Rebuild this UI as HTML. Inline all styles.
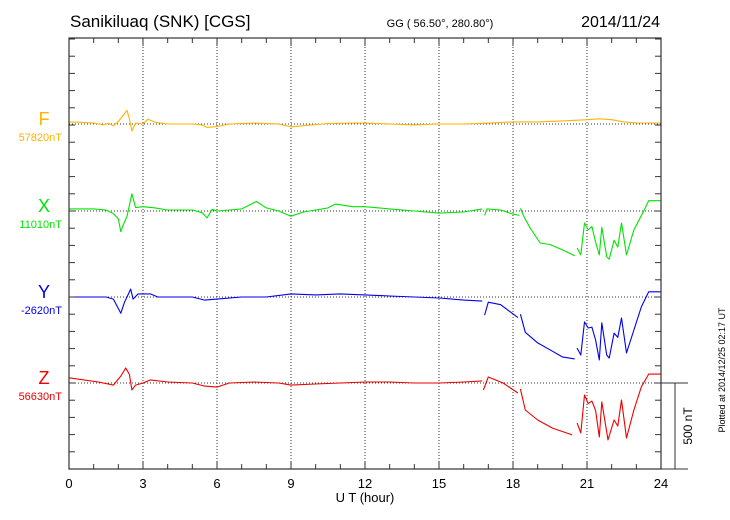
<!DOCTYPE html>
<html><head><meta charset="utf-8"><style>
body{margin:0;background:#fff;}
svg{display:block;font-family:"Liberation Sans",sans-serif;}
</style></head><body>
<svg id="chart" width="730" height="520" viewBox="0 0 730 520">
<text x="70" y="27" font-size="17">Sanikiluaq (SNK)  [CGS]</text>
<text x="440" y="27" font-size="11" text-anchor="middle">GG ( 56.50°, 280.80°)</text>
<text x="660" y="27" font-size="16" text-anchor="end">2014/11/24</text>
<text x="365" y="502" font-size="13" text-anchor="middle">U T (hour)</text>
<text transform="translate(725,370) rotate(-90)" font-size="9" text-anchor="middle">Plotted at 2014/12/25 02:17 UT</text>
<g id="grid"></g>
<g id="series"></g>
<g id="axes"></g>
</svg>
<script>
const fHours=[0,0.5,1,1.4,1.6,1.8,2.0,2.2,2.35,2.45,2.55,2.7,3.0,3.2,3.5,4,5,5.4,5.6,6,6.5,7.5,8.5,9,9.5,10.5,11.5,12,13,14,15,16,17,18,19,20,21,21.5,22,22.5,23,24];
const fValues=[12,10,6,-6,4,-10,15,50,80,30,-40,5,0,28,10,0,0,-5,-20,-15,0,5,0,-17,-10,3,6,5,0,-5,0,0,5,12,12,18,25,30,25,12,6,6];
const xHours=[0,1,1.5,1.8,2.0,2.1,2.2,2.35,2.55,2.7,3.0,3.5,4,5,5.4,5.6,5.8,6,6.5,7,7.6,8,8.5,9,9.5,10,10.5,10.8,11.5,12,13,14,15,16,16.75,null,16.85,16.95,17.5,18,18.25,null,18.3,18.45,18.7,19.1,19.5,20,20.5,null,20.6,20.75,20.9,21.05,21.2,21.35,21.5,21.6,21.8,21.9,22.1,22.25,22.4,22.6,22.9,23.3,23.5,24];
const xValues=[12,12,6,-15,-45,-120,-80,-30,100,20,25,18,6,6,-10,-40,10,0,6,12,55,18,0,-30,-6,6,18,40,25,25,12,0,-12,-6,12,null,-25,12,6,-18,-25,null,15,-35,-100,-186,-195,-225,-260,null,-215,-255,-70,-110,-90,-180,-255,-95,-265,-280,-170,-210,-70,-255,-110,0,60,60];
const yHours=[0,1.5,1.8,2.1,2.25,2.5,2.6,2.8,3.3,3.6,5,5.5,6,7,8,9,10,11,12,13,14,15,16,16.75,null,16.85,17.0,17.5,18.2,null,18.3,18.5,19,19.5,20,20.5,null,20.6,20.75,20.9,21.05,21.2,21.35,21.5,21.6,21.8,21.9,22.1,22.25,22.4,22.6,22.9,23.2,23.5,24];
const yValues=[0,0,-12,-95,-30,46,-12,18,18,0,0,-18,-12,0,0,18,12,18,12,6,0,-6,-18,-24,null,-105,-30,-45,-120,null,-100,-205,-267,-307,-348,-360,null,-297,-337,-145,-180,-175,-250,-366,-150,-337,-355,-210,-235,-122,-325,-192,-58,30,30];
const zHours=[0,1.2,1.8,2.1,2.3,2.45,2.55,2.7,3.0,3.3,4,5,5.5,6,6.5,7.5,8.5,9,10,11,12,13,14,15,16,16.75,null,16.8,17.0,17.6,18.2,null,18.3,18.5,19,19.6,20.4,null,20.6,20.75,20.9,21.05,21.2,21.35,21.5,21.6,21.85,22.1,22.25,22.4,22.6,22.9,23.2,23.5,24];
const zValues=[30,6,-12,40,87,50,-40,-12,0,18,6,0,-18,-24,0,6,0,-12,-6,0,6,6,0,0,6,12,null,-40,35,0,-58,null,-35,-157,-215,-262,-302,null,-232,-290,-70,-120,-105,-160,-314,-110,-331,-215,-250,-99,-320,-157,-23,52,52];
const xTickLabels=["0","3","6","9","12","15","18","21","24"];
const channelNames=["F","X","Y","Z"];
const baseLabels=["57820nT","11010nT","-2620nT","56630nT"];

const NS="http://www.w3.org/2000/svg";
const L=69,R=661,T=38,B=469;
const pxPerNT=86/500;
const baselines=[124,211,297,383];
const colors=["#ffb400","#00e400","#0000ee","#ee0000"];
function sx(h){return L+(R-L)*h/24;}
function sy(v,i){return baselines[i]-v*pxPerNT;}
function mk(tag,attrs,parent){const e=document.createElementNS(NS,tag);for(const k in attrs)e.setAttribute(k,attrs[k]);parent.appendChild(e);return e;}
const grid=document.getElementById('grid'),ser=document.getElementById('series'),axes=document.getElementById('axes');

for(let h=3;h<24;h+=3){
  const g=mk('line',{x1:sx(h),x2:sx(h),y1:T,y2:B,stroke:'#333','stroke-width':1,'stroke-dasharray':'1,2'},grid);
  
  
}
baselines.forEach((b,i)=>{
  const g=mk('line',{x1:L,x2:R,y1:b,y2:b,stroke:'#333','stroke-width':1,'stroke-dasharray':'1,2'},grid);
  
  
});

const allH=[fHours,xHours,yHours,zHours],allV=[fValues,xValues,yValues,zValues];
allH.forEach((hs,i)=>{
  let d='',pen=false;
  for(let k=0;k<hs.length;k++){
    if(hs[k]===null||allV[i][k]===null){pen=false;continue;}
    d+=(pen?'L':'M')+sx(hs[k]).toFixed(1)+','+sy(allV[i][k],i).toFixed(1);
    pen=true;
  }
  const p=mk('path',{d:d,fill:'none',stroke:colors[i],'stroke-width':1.1,'stroke-linejoin':'round'},ser);
  
  
  const t=mk('text',{x:44,y:baselines[i]+1,'font-size':18,'text-anchor':'middle',fill:colors[i]},axes);
  t.textContent=channelNames[i];
  
  
  const b=mk('text',{x:62,y:baselines[i]+17,'font-size':11,'text-anchor':'end',fill:colors[i]},axes);
  b.textContent=baseLabels[i];
  
  
});

const box=mk('rect',{x:L,y:T,width:R-L,height:B-T,fill:'none',stroke:'#333','stroke-width':1.2},axes);


for(let h=1;h<24;h++){
  const len=(h%3===0)?8:5;
  mk('line',{x1:sx(h),x2:sx(h),y1:T,y2:T+len,stroke:'#333'},axes);
  mk('line',{x1:sx(h),x2:sx(h),y1:B,y2:B-len,stroke:'#333'},axes);
}
for(let y=B-17.2;y>T;y-=17.2){
  mk('line',{x1:L,x2:L+6,y1:y,y2:y,stroke:'#333'},axes);
  mk('line',{x1:R,x2:R-6,y1:y,y2:y,stroke:'#333'},axes);
}
xTickLabels.forEach((lab,i)=>{
  const t=mk('text',{x:sx(i*3),y:488,'font-size':13,'text-anchor':'middle'},axes);
  t.textContent=lab;
  
  
});
const sb=mk('g',{},axes);


mk('line',{x1:R,x2:688,y1:383,y2:383,stroke:'#333'},sb);
mk('line',{x1:R,x2:688,y1:469,y2:469,stroke:'#333'},sb);
mk('line',{x1:675,x2:675,y1:383,y2:469,stroke:'#333'},sb);
const st=mk('text',{transform:'translate(692,426) rotate(-90)','font-size':12,'text-anchor':'middle'},sb);
st.textContent='500 nT';
</script>
</body></html>
